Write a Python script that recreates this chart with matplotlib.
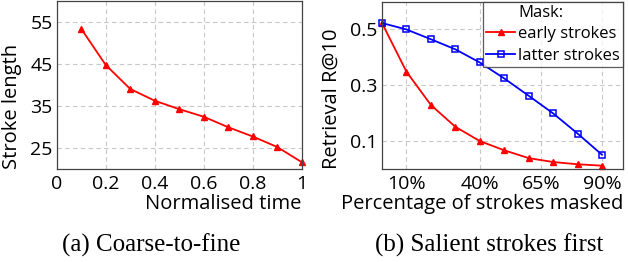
import matplotlib
matplotlib.use("Agg")
import matplotlib.pyplot as plt
from matplotlib.lines import Line2D

# Left panel data
norm_time = [0.1, 0.2, 0.3, 0.4, 0.5, 0.6, 0.7, 0.8, 0.9, 1.0]
stroke_length = [53.4, 44.8, 39.1, 36.3, 34.3, 32.5, 30.0, 27.8, 25.3, 21.7]

# Right panel data
pct_masked = [0, 10, 20, 30, 40, 50, 60, 70, 80, 90]
early_strokes = [0.523, 0.349, 0.230, 0.152, 0.101, 0.068, 0.040, 0.026, 0.018, 0.013]
latter_strokes = [0.523, 0.500, 0.465, 0.429, 0.382, 0.325, 0.263, 0.200, 0.128, 0.052]

left_xticks = [0, 0.2, 0.4, 0.6, 0.8, 1]
left_xticklabels = ["0", "0.2", "0.4", "0.6", "0.8", "1"]
left_yticks = [25, 35, 45, 55]
right_xticks = [10, 40, 65, 90]
right_xticklabels = ["10%", "40%", "65%", "90%"]
right_yticks = [0.1, 0.3, 0.5]

plt.rcParams['font.family'] = ['Open Sans', 'DejaVu Sans']
W, H = 628, 262
fig = plt.figure(figsize=(W / 100, H / 100), dpi=100)

def frac(x0, y0, x1, y1):
    return [x0 / W, 1 - y1 / H, (x1 - x0) / W, (y1 - y0) / H]

ax1 = fig.add_axes(frac(56.7, 1.0, 301.7, 169.3))
ax2 = fig.add_axes(frac(382.0, 1.5, 623.0, 169.3))

spine_c = '#444444'
grid_kw = dict(color='#c8c8c8', linestyle=(0, (4, 3)), linewidth=0.8)
tick_fs = 14
label_fs = 14.5

for ax in (ax1, ax2):
    for s in ax.spines.values():
        s.set_color(spine_c)
        s.set_linewidth(0.9)
    ax.tick_params(length=0, labelsize=tick_fs, colors='black')
    ax.tick_params(axis='x', pad=4)
    ax.tick_params(axis='y', pad=3)
    ax.grid(True, **grid_kw)
    ax.set_axisbelow(True)

ax1.plot(norm_time, stroke_length, color='red', lw=1.3, marker='^', ms=5, clip_on=False)
ax1.set_xlim(0, 1)
ax1.set_ylim(20, 60)
ax1.set_xticks(left_xticks)
ax1.set_xticklabels(left_xticklabels)
ax1.set_yticks(left_yticks)
ax1.set_xlabel("Normalised time", fontsize=label_fs, loc='right', labelpad=1)
ax1.set_ylabel("Stroke length", fontsize=label_fs, loc='bottom', labelpad=6)

ax2.plot(pct_masked, early_strokes, color='red', lw=1.3, marker='^', ms=5, clip_on=False,
         label='early strokes')
ax2.plot(pct_masked, latter_strokes, color='blue', lw=1.3, marker='s', ms=5, mfc='none',
         mew=1.1, clip_on=False, label='latter strokes')
ax2.set_xlim(0, 98.6)
ax2.set_ylim(0, 0.6)
ax2.set_xticks(right_xticks)
ax2.set_xticklabels(right_xticklabels)
ax2.set_yticks(right_yticks)
ax2.set_xlabel("Percentage of strokes masked", fontsize=label_fs, loc='right', labelpad=1)
ax2.set_ylabel("Retrieval R@10", fontsize=label_fs, loc='bottom', labelpad=6)

handles, labels = ax2.get_legend_handles_labels()
title_h = Line2D([], [], color='none')
leg = ax2.legend([title_h] + handles, ["Mask:"] + labels, loc='upper right',
                 fontsize=12, frameon=True, fancybox=False, borderpad=0.2,
                 labelspacing=0.32, handlelength=1.75, handletextpad=0.15,
                 borderaxespad=0.0)
leg.get_frame().set_edgecolor('#333333')
leg.get_frame().set_linewidth(0.9)

fig.text(151 / W, 1 - 245 / H, "(a) Coarse-to-fine", ha='center', va='center',
         fontsize=18, family='Liberation Serif')
fig.text(489 / W, 1 - 245 / H, "(b) Salient strokes first", ha='center', va='center',
         fontsize=18, family='Liberation Serif')

fig.savefig("out.png", dpi=100)
